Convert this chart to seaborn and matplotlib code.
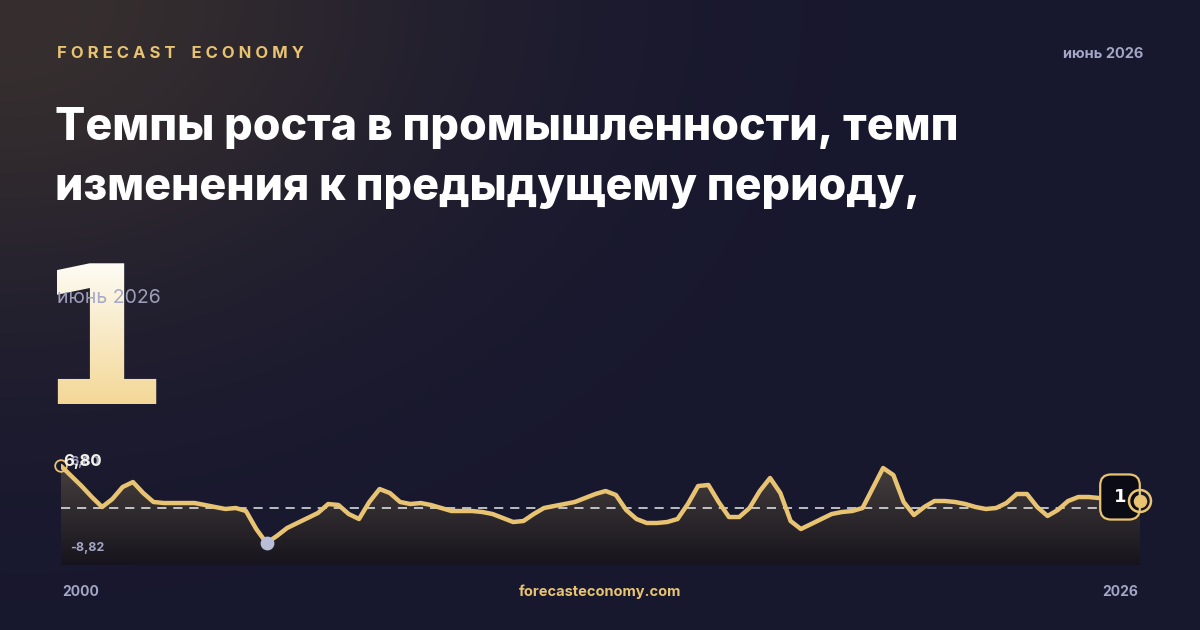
import numpy as np
import pandas as pd
import seaborn as sns
import matplotlib.pyplot as plt
from matplotlib.textpath import TextPath
from matplotlib.font_manager import FontProperties
from matplotlib.patches import PathPatch
from matplotlib.transforms import Affine2D
from matplotlib.colors import to_rgb


# quarterly growth rate, % to previous period
values = [
    6.80, 4.77, 2.74, 0.51, -1.52, 0.11, 2.54, 3.55, 1.32, -0.50,
    -0.71, -0.71, -0.71, -0.71, -1.11, -1.52, -1.92, -1.72, -2.33, -5.98,
    -8.82, -7.40, -5.78, -4.76, -3.75, -2.73, -0.91, -1.11, -2.94, -3.95,
    -0.50, 2.13, 1.32, -0.50, -0.91, -0.71, -1.11, -1.72, -2.33, -2.33,
    -2.33, -2.53, -2.94, -3.75, -4.56, -4.36, -2.94, -1.72, -1.31, -0.91,
    -0.50, 0.31, 1.12, 1.73, 0.92, -2.13, -3.95, -4.76, -4.76, -4.56,
    -3.95, -0.91, 2.74, 2.95, -0.50, -3.55, -3.55, -1.72, 1.73, 4.37,
    1.32, -4.36, -5.98, -4.97, -3.95, -2.94, -2.53, -2.33, -1.72, 2.34,
    6.39, 4.97, -0.50, -3.14, -1.52, -0.30, -0.30, -0.50, -0.91, -1.52,
    -1.92, -1.72, -0.71, 1.12, 1.12, -1.52, -3.34, -2.13, -0.30, 0.51,
    0.51, 0.31, 0.11, 0.11, -0.10, -0.30,
]
dates = pd.date_range('2000-01-01', periods=len(values), freq='QS')
ref_value = -1.72

latest_label = '1'
period = 'июнь 2026'
title_lines = ['Темпы роста в промышленности, темп',
               'изменения к предыдущему периоду,']
brand = 'FORECAST ECONOMY'
site = 'forecasteconomy.com'
start_label, end_label = '2000', '2026'

GOLD = '#e8c372'
MUTED = '#a3a6c4'
W, H = 1200, 630


def fmt(v):
    return f'{v:.2f}'.replace('.', ',')


sns.set_theme(style='dark')
plt.rcParams['font.family'] = ['Inter', 'DejaVu Sans']

fig = plt.figure(figsize=(12, 6.3), dpi=100)

# full-size layer in pixel coords for background and texts
bg = fig.add_axes([0, 0, 1, 1])
bg.axis('off')
yy, xx = np.mgrid[0:H, 0:W]
glow = np.exp(-(np.hypot(xx, yy * 1.4) / 450) ** 2)[..., None]
base = np.array(to_rgb('#17172f'))
warm = np.array(to_rgb('#372f2e'))
bg.imshow(base + (warm - base) * glow, extent=(0, W, H, 0), aspect='auto', zorder=0)

bg.text(57, 53, ' '.join(brand).replace('   ', '    '), color=GOLD, fontsize=12,
        weight='bold', va='center', ha='left')
bg.text(1143, 54, period, color=MUTED, fontsize=10.5, weight='bold', va='center', ha='right')
bg.text(55, 140, title_lines[0], color='white', fontsize=32.2, weight='heavy', va='baseline')
bg.text(55, 200, title_lines[1], color='white', fontsize=32.2, weight='heavy', va='baseline')

# big number with vertical gradient
tp = TextPath((0, 0), latest_label, size=193, prop=FontProperties(family='DejaVu Sans', weight='bold'))
ext = tp.get_extents()
num_patch = PathPatch(tp, facecolor='none', edgecolor='none',
                      transform=Affine2D().scale(1, -1).translate(57 - ext.x0, 404) + bg.transData)
bg.add_patch(num_patch)
g = np.linspace(0, 1, 256)[:, None, None]
top_c, bot_c = np.array(to_rgb('#fefdf8')), np.array(to_rgb('#f3d795'))
im = bg.imshow(top_c * (1 - g) + bot_c * g, extent=(50, 175, 406, 258), aspect='auto', zorder=2)
im.set_clip_path(num_patch)
bg.text(57, 298, period, color=MUTED, fontsize=14, va='center', ha='left', alpha=0.95, zorder=3)

bg.text(62, 592, start_label, color=MUTED, fontsize=10, weight='bold', va='center', ha='left')
bg.text(1138, 592, end_label, color=MUTED, fontsize=10, weight='bold', va='center', ha='right')
bg.text(600, 592, site, color=GOLD, fontsize=10.5, weight='bold', va='center', ha='center')
bg.set_xlim(0, W)
bg.set_ylim(H, 0)

# chart
t = np.asarray(dates.year + (dates.month - 1) / 12, dtype=float)
y_floor, y_top = -13.28, 9.03
ax = fig.add_axes([61 / W, (H - 565) / H, 1079 / W, 110 / H])
ax.set_facecolor('none')
ax.axis('off')

poly = ax.fill_between(t, values, y_floor, facecolor='none', edgecolor='none')
fill_path = poly.get_paths()[0]
f_top, f_bot = np.array(to_rgb('#4c4341')), np.array(to_rgb('#16141d'))
g2 = np.linspace(0, 1, 200)[:, None, None]
fim = ax.imshow(f_top * (1 - g2) + f_bot * g2, extent=(t[0], t[-1], y_floor, y_top),
                aspect='auto', zorder=1)
fim.set_clip_path(fill_path, ax.transData)

ax.axhline(ref_value, color='white', lw=1.1, dashes=(6, 4.5), alpha=0.9, zorder=3)
sns.lineplot(x=t, y=values, ax=ax, color=GOLD, lw=3.2, zorder=4)
ax.lines[-1].set_solid_capstyle('round')
ax.lines[-1].set_solid_joinstyle('round')

i_max, i_min = int(np.argmax(values)), int(np.argmin(values))
v_max, v_min = values[i_max], values[i_min]
ax.scatter([t[i_max]], [v_max], s=70, facecolor='none', edgecolor=GOLD, lw=1.3, zorder=5, clip_on=False)
ax.scatter([t[i_min]], [v_min], s=80, color='#b9bdd8', zorder=5, clip_on=False)

ax.annotate(fmt(v_max), (t[0], v_max), xytext=(9, 4), textcoords='offset pixels',
            color=MUTED, fontsize=9, weight='bold', va='center', ha='left', zorder=5, annotation_clip=False)
ax.annotate(fmt(v_min), (t[0], v_min), xytext=(9, -5), textcoords='offset pixels',
            color=MUTED, fontsize=9, weight='bold', va='center', ha='left', zorder=5, annotation_clip=False)
ax.annotate(fmt(v_max), (t[i_max], v_max), xytext=(2, 4), textcoords='offset pixels',
            color='#f4f1ea', fontsize=12, weight='bold', va='center', ha='left', zorder=6,
            annotation_clip=False)

ax.annotate(latest_label, (t[-1], values[-1]), xytext=(-20, 4), textcoords='offset pixels',
            color='white', fontsize=13, weight='bold', family='DejaVu Sans', va='center', ha='center',
            bbox=dict(boxstyle='round,pad=0.75,rounding_size=0.6', fc='#0b0b16', ec=GOLD, lw=1.6),
            zorder=6, annotation_clip=False)
ax.scatter([t[-1]], [values[-1]], s=250, facecolor='none', edgecolor=GOLD, lw=1.8, zorder=7, clip_on=False)
ax.scatter([t[-1]], [values[-1]], s=75, color=GOLD, zorder=7, clip_on=False)

ax.set_xlim(t[0], t[-1])
ax.set_ylim(y_floor, y_top)

fig.savefig('out.png', dpi=100)
